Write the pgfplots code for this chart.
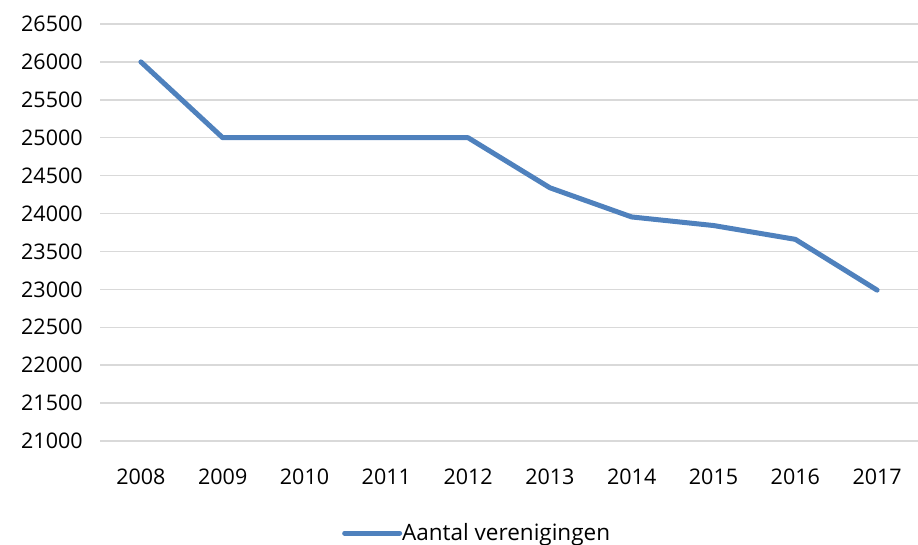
\documentclass[border=0pt]{standalone}
\usepackage{fontspec}
\setmainfont{Open Sans}
\usepackage{pgfplots}
\pgfplotsset{compat=1.18}
\definecolor{lineblue}{HTML}{4F81BD}
\definecolor{gridgray}{HTML}{D9D9D9}
\begin{document}
\fontsize{21.5bp}{26bp}\selectfont
\begin{tikzpicture}
\begin{axis}[
  name=ax,
  scale only axis,
  width=818bp, height=417bp,
  xmin=-0.5, xmax=9.5,
  ymin=21000, ymax=26500,
  ytick distance=500,
  scaled y ticks=false,
  xtick={0,...,9},
  xticklabels={2008,2009,2010,2011,2012,2013,2014,2015,2016,2017},
  axis line style={draw=none},
  major tick length=0pt,
  ymajorgrids,
  grid style={gridgray, line width=1.5bp},
  /pgf/number format/assume math mode=true,
  /pgf/number format/fixed,
  /pgf/number format/set thousands separator={},
  yticklabel style={anchor=east, xshift=-10bp, text=black},
  xticklabel style={yshift=-21bp, text=black},
  tick label style={font=\fontsize{21.5bp}{26bp}\selectfont},
  legend style={at={(rel axis cs:0.461,-0.221)}, anchor=center, draw=none, fill=none,
    font=\fontsize{22.5bp}{27bp}\selectfont, inner sep=0pt,
    /tikz/every even column/.append style={column sep=0pt}},
  legend cell align=left,
  legend image code/.code={\draw[#1] (0bp,0bp) -- (55bp,0bp);},
]
\addplot[lineblue, line width=5bp, line join=round, line cap=round] coordinates {
(0,26000) (1,25000) (2,25000) (3,25000) (4,25000) (5,24340) (6,23955) (7,23842) (8,23660) (9,22990)
};
\addlegendentry{\hspace{-2bp}Aantal verenigingen}
\end{axis}
\pgfresetboundingbox
\path[use as bounding box] ([xshift=-100bp,yshift=-103bp]ax.south west) rectangle ([yshift=24bp]ax.north east);
\end{tikzpicture}
\end{document}
